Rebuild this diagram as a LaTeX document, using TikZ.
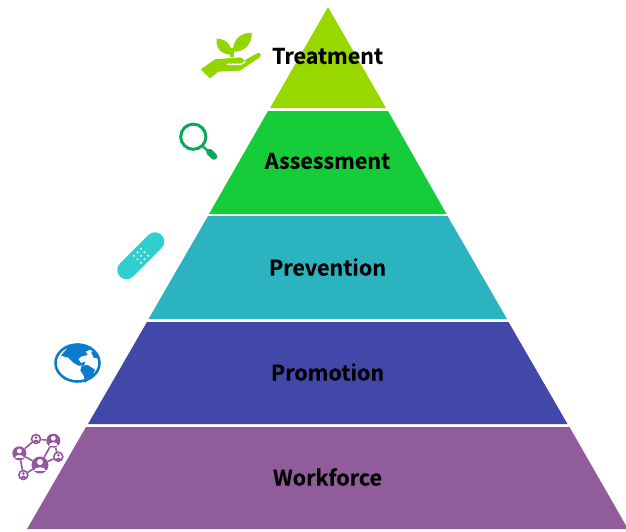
\documentclass[tikz,border=0pt]{standalone}
\usepackage{fontspec}
\setmainfont{Noto Sans CJK SC}[BoldFont={* Bold},BoldFeatures={FakeBold=0.35}]
\definecolor{cT}{HTML}{99D700}
\definecolor{cA}{HTML}{16CC38}
\definecolor{cV}{HTML}{2BB4C0}
\definecolor{cP}{HTML}{4247AA}
\definecolor{cW}{HTML}{915C9C}
\definecolor{cLeaf}{HTML}{93D500}
\definecolor{cLens}{HTML}{0BA858}
\definecolor{cBand}{HTML}{2FCFCF}
\definecolor{cGlobe}{HTML}{0B7CCB}
\definecolor{cNet}{HTML}{94569E}
\tikzset{
  tier/.style={fill=#1,draw=none},
  tierlabel/.style={font=\fontsize{21.5}{25}\selectfont\bfseries,text=black,inner sep=0pt,anchor=center},
  bighub/.style={circle,fill=cNet,draw=none,inner sep=0pt,minimum size=#1},
  ringhub/.style={circle,fill=white,draw=cNet,line width=1.6pt,inner sep=0pt,minimum size=#1},
  netlink/.style={draw=cNet,line width=1.6pt},
  person/.pic={
    \fill[#1] (0,-.3) circle (.3);
    \fill[#1] (-.55,.62) .. controls (-.55,.05) and (.55,.05) .. (.55,.62) -- cycle;
  },
  hole/.style={fill=white}
}
\begin{document}
\begin{tikzpicture}[x=1pt,y=-1pt]
\useasboundingbox (0,0) rectangle (626,531);
% tiers
\fill[tier=cT] (328,7) -- (386,108) -- (270,108) -- cycle;
\fill[tier=cA] (268,111) -- (388,111) -- (446.5,214) -- (209,214) -- cycle;
\fill[tier=cV] (208,216) -- (447.5,216) -- (507,319) -- (148.5,319) -- cycle;
\fill[tier=cP] (147,322) -- (508.5,322) -- (567.5,424) -- (88,424) -- cycle;
\fill[tier=cW] (86,427) -- (569.5,427) -- (628,529) -- (27,529) -- cycle;
% labels
\node[tierlabel] (t1) at (327.5,56) {Treatment};
\node[tierlabel] (t2) at (327.5,161) {Assessment};
\node[tierlabel] (t3) at (327.5,267) {Prevention};
\node[tierlabel] (t4) at (327.5,372) {Promotion};
\node[tierlabel] (t5) at (327.5,477) {Workforce};
% hand and sprout
\begin{scope}[shift={(190,20)},scale=1/3]
  \fill[cLeaf] (32,148) -- (75,118) -- (148,112) .. controls (156,112) and (160,117) .. (162,122)
     -- (203,99) .. controls (210,96) and (216,106) .. (209,112) -- (150,152) -- (85,155) -- (60,175) -- cycle;
  \draw[white,line width=1.4pt,line cap=round] (112,133) -- (150,133) .. controls (158,133) and (162,128) .. (165,124);
  \fill[cLeaf] (80,56) .. controls (105,56) and (127,72) .. (124,104) .. controls (95,104) and (76,85) .. (80,56) -- cycle;
  \fill[cLeaf] (185,38) .. controls (187,70) and (165,97) .. (129,95) .. controls (128,60) and (150,38) .. (185,38) -- cycle;
  \fill[cLeaf] (120,85) rectangle (131,112);
\end{scope}
% magnifier
\draw[cLens,line width=3pt] (193.3,136.7) circle (12.6);
\draw[cLens,line width=2.4pt] (203,146.5) -- (209,152);
\draw[cLens,line width=6.5pt,line cap=round] (209.5,152) -- (214,156.5);
% bandage
\draw[cBand,line width=18.5pt,line cap=round] (126.5,270) -- (155,241.5);
\foreach \dx/\dy in {0/-7,-7/0,0/0,7/0,0/7,-3.5/-3.5,3.5/-3.5,-3.5/3.5,3.5/3.5}
  \fill[hole] (141+\dx,255.7+\dy) circle (1.2);
% globe
\draw[cGlobe,line width=2.6pt] (77.5,363) ellipse (22 and 18.5);
\begin{scope}[shift={(45,335)},scale=1/3]
  \fill[cGlobe] (48,62) -- (68,38) -- (100,26) -- (128,32) -- (136,44) -- (122,50) -- (128,60) -- (110,64)
     -- (100,72) -- (108,84) -- (120,80) -- (118,92) -- (100,92) -- (84,82) -- (70,68) -- cycle;
  \fill[cGlobe] (110,92) -- (128,90) -- (150,104) -- (144,120) -- (130,130) -- (122,144) -- (116,122) -- (106,106) -- cycle;
  \fill[cGlobe] (138,50) -- (150,50) -- (158,70) -- (146,68) -- cycle;
\end{scope}
% network
\begin{scope}[shift={(5,425)},scale=1/3]
  \node[bighub=14pt] (n1) at (43,85) {};
  \node[bighub=14pt] (n2) at (145,47) {};
  \node[bighub=17pt] (n3) at (105,120) {};
  \node[ringhub=9pt] (r1) at (93,42) {};
  \node[ringhub=9pt] (r2) at (160,95) {};
  \node[ringhub=9pt] (r3) at (55,150) {};
  \draw[netlink] (n1) -- (r1);
  \draw[netlink] (r1) -- (n2);
  \draw[netlink] (n2) -- (r2);
  \draw[netlink] (n2) -- (n3);
  \draw[netlink] (r2) -- (n3);
  \draw[netlink] (n1) -- (n3);
  \draw[netlink] (n1) -- (r3);
  \draw[netlink] (r3) -- (n3);
\end{scope}
\pic[scale=8] at (n1) {person=white};
\pic[scale=8] at (n2) {person=white};
\pic[scale=10] at (n3) {person=white};
\pic[scale=5] at (r1) {person=cNet};
\pic[scale=5] at (r2) {person=cNet};
\pic[scale=5] at (r3) {person=cNet};
\end{tikzpicture}
\end{document}
